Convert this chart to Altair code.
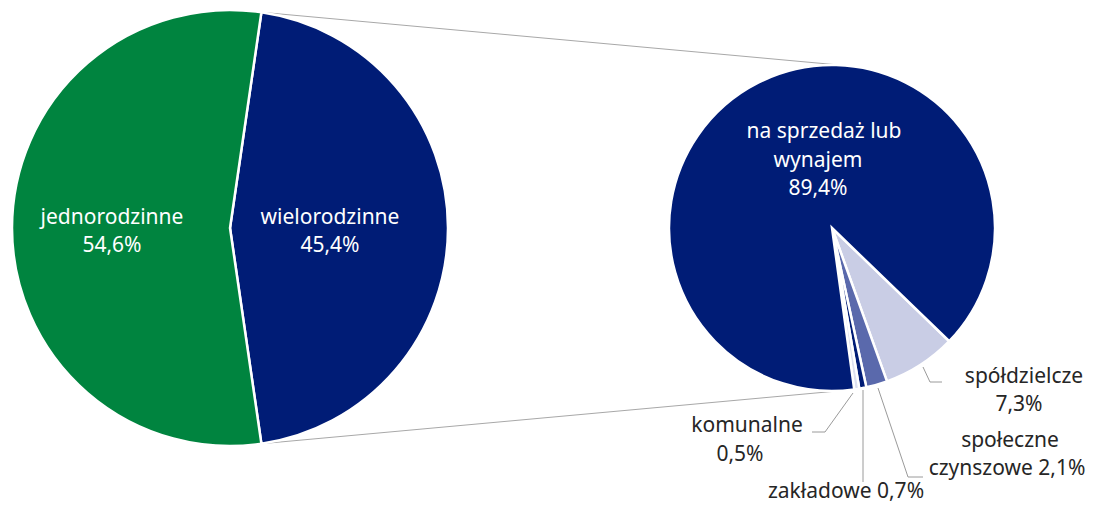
import math
import altair as alt
import pandas as pd

# ---------------- data ----------------
type_cats = ["wielorodzinne", "jednorodzinne"]
type_vals = [45.4, 54.6]
type_colors = ["#001C76", "#00843F"]

multi_cats = ["spółdzielcze", "społeczne czynszowe", "zakładowe", "komunalne", "na sprzedaż lub wynajem"]
multi_vals = [7.3, 2.1, 0.7, 0.5, 89.4]
multi_colors = ["#C9CDE5", "#5A69AC", "#001C76", "#DDE1F0", "#001C76"]


def fmt(v):
    return f"{v:.1f}".replace(".", ",") + "%"


# ---------------- layout (chart pixel coords; page offset 8px) ----------------
OFF = 8
cx1, cy1, R1 = 230 - OFF, 228 - OFF, 218
cx2, cy2, R2 = 832 - OFF, 228 - OFF, 163
start1 = 90 - type_vals[0] * 3.6 / 2          # wielorodzinne centred on the right
start2 = 134.0                                 # rotation of the second pie

def pt(cx, cy, r, deg):
    a = math.radians(deg)
    return cx + r * math.sin(a), cy - r * math.cos(a)

df1 = pd.DataFrame({"cat": type_cats, "value": type_vals, "color": type_colors,
                    "ord": list(range(len(type_cats)))})
df2 = pd.DataFrame({"cat": multi_cats, "value": multi_vals, "color": multi_colors,
                    "ord": list(range(len(multi_cats)))})

pie1 = alt.Chart(df1).mark_arc(outerRadius=R1, stroke="white", strokeWidth=2.5).encode(
    theta=alt.Theta("value:Q", stack=True,
                    scale=alt.Scale(range=[math.radians(start1), math.radians(start1) + 2 * math.pi])),
    order=alt.Order("ord:Q"),
    color=alt.Color("color:N", scale=None),
    x=alt.value(cx1), y=alt.value(cy1),
)

pie2 = alt.Chart(df2).mark_arc(outerRadius=R2, stroke="white", strokeWidth=2.5).encode(
    theta=alt.Theta("value:Q", stack=True,
                    scale=alt.Scale(range=[math.radians(start2), math.radians(start2) + 2 * math.pi])),
    order=alt.Order("ord:Q"),
    color=alt.Color("color:N", scale=None),
    x=alt.value(cx2), y=alt.value(cy2),
)

# connector lines between the pies (derived from slice boundaries)
end1 = start1 + type_vals[0] * 3.6
end2 = start2 + sum(multi_vals[:-1]) * 3.6
a1 = pt(cx1, cy1, R1, start1)
b1 = pt(cx2, cy2, R2, 4)
a2 = pt(cx1, cy1, R1, end1)
b2 = pt(cx2, cy2, R2, end2)
conn = pd.DataFrame({"x": [a1[0], a2[0]], "y": [a1[1], a2[1]],
                     "x2": [b1[0], b2[0]], "y2": [b1[1], b2[1]]})
connectors = alt.Chart(conn).mark_rule(color="#A8A8A8", strokeWidth=1).encode(
    x=alt.X("x:Q", scale=None), y=alt.Y("y:Q", scale=None),
    x2="x2:Q", y2="y2:Q",
)

# leader lines (image coords)
leaders_pts = [
    ("s", [(923, 367), (930, 382), (942, 382)]),
    ("c", [(878, 388), (908, 477), (923, 477)]),
    ("z", [(863, 390), (863, 482)]),
    ("k", [(853, 393), (825, 432), (812, 432)]),
]
rows = []
for g, pts in leaders_pts:
    for i, (x, y) in enumerate(pts):
        rows.append({"g": g, "i": i, "x": x - OFF, "y": y - OFF})
leaders = alt.Chart(pd.DataFrame(rows)).mark_line(color="#9A9A9A", strokeWidth=1).encode(
    x=alt.X("x:Q", scale=None), y=alt.Y("y:Q", scale=None),
    detail="g:N", order="i:Q",
)

# labels
v = dict(zip(type_cats + multi_cats, type_vals + multi_vals))
label_rows = [
    ("jednorodzinne", 112, 218, "white"),
    (fmt(v["jednorodzinne"]), 112, 246, "white"),
    ("wielorodzinne", 330, 218, "white"),
    (fmt(v["wielorodzinne"]), 330, 246, "white"),
    ("na sprzedaż lub", 824, 132, "white"),
    ("wynajem", 818, 161, "white"),
    (fmt(v["na sprzedaż lub wynajem"]), 818, 189, "white"),
    ("spółdzielcze", 1024, 377, "#262626"),
    (fmt(v["spółdzielcze"]), 1019, 405, "#262626"),
    ("społeczne", 1010, 441, "#262626"),
    ("czynszowe " + fmt(v["społeczne czynszowe"]), 1007, 469, "#262626"),
    ("zakładowe " + fmt(v["zakładowe"]), 846, 492, "#262626"),
    ("komunalne", 747, 426, "#262626"),
    (fmt(v["komunalne"]), 740, 455, "#262626"),
]
ldf = pd.DataFrame([{"t": t, "x": x - OFF, "y": y - OFF, "c": c} for t, x, y, c in label_rows])
labels = alt.Chart(ldf).mark_text(font="Noto Sans", fontSize=21, align="center", baseline="middle").encode(
    x=alt.X("x:Q", scale=None), y=alt.Y("y:Q", scale=None),
    text="t:N", color=alt.Color("c:N", scale=None),
)

chart = alt.layer(connectors, pie1, pie2, leaders, labels).resolve_scale(
    theta="independent"
).properties(
    width=1080, height=498, padding=0, autosize="none", background="white"
).configure_view(stroke=None)

chart.save("out.html", embed_options={"renderer": "svg", "actions": False})
